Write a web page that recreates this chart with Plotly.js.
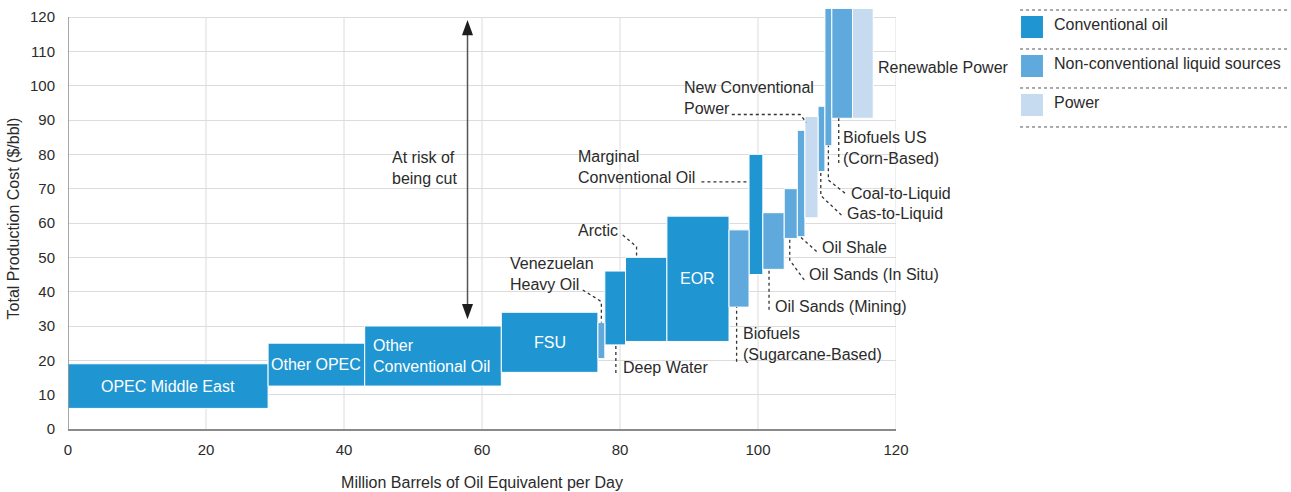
<!DOCTYPE html>
<html>
<head>
<meta charset="utf-8">
<script src="https://cdn.plot.ly/plotly-3.0.1.min.js"></script>
<style>
  html, body { margin: 0; padding: 0; background: #fff; }
  #chart { width: 1291px; height: 492px; }
</style>
</head>
<body>
<div id="chart"></div>
<script>
// Supply cost curve: each block is a source, its width the volume it supplies
// (million barrels of oil equivalent per day), its height the production cost range ($/bbl).
const sources = [
  'OPEC Middle East', 'Other OPEC', 'Other Conventional Oil', 'FSU',
  'Venezuelan Heavy Oil', 'Deep Water', 'Arctic', 'EOR',
  'Biofuels (Sugarcane-Based)', 'Marginal Conventional Oil', 'Oil Sands (Mining)',
  'Oil Sands (In Situ)', 'Oil Shale', 'New Conventional Power', 'Gas-to-Liquid',
  'Coal-to-Liquid', 'Biofuels US (Corn-Based)', 'Renewable Power'
];
const volumes  = [29, 14, 19.8, 14, 1, 3, 6, 9, 2.9, 2, 3.1, 1.9, 1.1, 1.9, 1, 1, 3, 3];
const costLow  = [6, 12.5, 12.5, 16.5, 20.5, 24.5, 25.5, 25.5, 35.5, 45, 46.5, 55.5, 56, 61.5, 75, 82.5, 90.5, 90.5];
const costHigh = [19, 25, 30, 34, 31, 46, 50, 62, 58, 80, 63, 70, 87, 91, 94, 122.5, 122.5, 122.5];
const sourceType = [0, 0, 0, 0, 1, 0, 0, 0, 1, 0, 1, 1, 1, 2, 1, 1, 1, 2];
const typeNames = ['Conventional oil', 'Non-conventional liquid sources', 'Power'];

const xTicks = [0, 20, 40, 60, 80, 100, 120];
const yTicks = [0, 10, 20, 30, 40, 50, 60, 70, 80, 90, 100, 110, 120];

// ---- styling ----
const typeColors = ['#1f95d2', '#60a9dc', '#c6dbf0'];
const FONT = 'Liberation Sans, Arial, Helvetica, sans-serif';
const TEXT = '#2b2b2b';
const GRID = '#dcdcdc';
const AXIS = '#8a8a8a';
const LINE_GAP = 21;      // px between lines of a multi-line label
const Y_VIEW_MAX = 122.62; // a little headroom so the tallest blocks rise past the 120 rule
const X_MAX = 120, Y_MAX = 120;

// cumulative left edge of each block
const starts = [];
volumes.reduce((acc, v, i) => { starts[i] = acc; return acc + v; }, 0);
const idx = name => sources.indexOf(name);

// one bar trace per source type
const traces = typeNames.map((tn, t) => {
  const ids = sources.map((s, i) => i).filter(i => sourceType[i] === t);
  return {
    type: 'bar',
    name: tn,
    x: ids.map(i => starts[i] + volumes[i] / 2),
    width: ids.map(i => volumes[i]),
    base: ids.map(i => costLow[i]),
    y: ids.map(i => costHigh[i] - costLow[i]),
    text: ids.map(i => sources[i]),
    textposition: 'none',
    hoverinfo: 'text',
    marker: { color: typeColors[t], line: { color: '#ffffff', width: 1 } },
    showlegend: false
  };
});

const annotations = [];
const shapes = [];

// vertical grid rules and the value axis line stop at the 120 rule
xTicks.slice(1).forEach(v => {
  shapes.push({ type: 'line', xref: 'x', yref: 'y', x0: v, x1: v, y0: 0, y1: Y_MAX,
                layer: 'below', line: { color: GRID, width: 1 } });
});
shapes.push({ type: 'line', xref: 'x', yref: 'y', x0: 0, x1: 0, y0: 0, y1: Y_MAX,
              layer: 'above', line: { color: AXIS, width: 1.5 } });

// white labels inside the large blocks
const insideLabels = [
  { name: 'OPEC Middle East', lines: ['OPEC Middle East'] },
  { name: 'Other OPEC', lines: ['Other OPEC'] },
  { name: 'Other Conventional Oil', lines: ['Other', 'Conventional Oil'], align: 'left', pad: 0.9 },
  { name: 'FSU', lines: ['FSU'] },
  { name: 'EOR', lines: ['EOR'] }
];
insideLabels.forEach(l => {
  const i = idx(l.name);
  const cy = (costLow[i] + costHigh[i]) / 2;
  const n = l.lines.length;
  l.lines.forEach((line, k) => {
    annotations.push({
      xref: 'x', yref: 'y',
      x: l.align === 'left' ? starts[i] + l.pad : starts[i] + volumes[i] / 2,
      xanchor: l.align === 'left' ? 'left' : 'center',
      y: cy, yanchor: 'middle',
      yshift: ((n - 1) / 2 - k) * LINE_GAP,
      text: line, showarrow: false,
      font: { family: FONT, size: 16, color: '#ffffff' }
    });
  });
});

// callout labels with dotted leaders running to their block
const callouts = [
  { name: 'Venezuelan Heavy Oil', lines: ['Venezuelan', 'Heavy Oil'], x: 63.8, y: 48.1,
    pts: [[74.6, 40.5], [77.3, 37.1]], end: 'top', ex: 77.3 },
  { name: 'Deep Water', lines: ['Deep Water'], x: 80.1, y: 17.8,
    pts: [[79.4, 16.3]], end: 'bottom', ex: 79.4 },
  { name: 'Arctic', lines: ['Arctic'], x: 73.6, y: 57.7,
    pts: [[80.4, 56.5], [82.4, 53.1]], end: 'top', ex: 82.4 },
  { name: 'Marginal Conventional Oil', lines: ['Marginal', 'Conventional Oil'], x: 73.6, y: 79.5,
    pts: [[91.8, 72.0]], end: 'left', ey: 72.0 },
  { name: 'New Conventional Power', lines: ['New Conventional', 'Power'], x: 89.0, y: 99.6,
    pts: [[96.2, 91.6], [106.1, 91.6], [107.0, 89.3]], end: null },
  { name: 'Biofuels US (Corn-Based)', lines: ['Biofuels US', '(Corn-Based)'], x: 112.1, y: 85.0,
    pts: [[111.7, 77.5]], end: 'bottom', ex: 111.7 },
  { name: 'Coal-to-Liquid', lines: ['Coal-to-Liquid'], x: 113.2, y: 68.7,
    pts: [[112.6, 68.7], [110.2, 72.5]], end: 'bottom', ex: 110.2 },
  { name: 'Gas-to-Liquid', lines: ['Gas-to-Liquid'], x: 112.6, y: 62.9,
    pts: [[112.1, 62.3], [109.1, 68.0]], end: 'bottom', ex: 109.1 },
  { name: 'Oil Shale', lines: ['Oil Shale'], x: 109.0, y: 53.0,
    pts: [[108.5, 51.7]], end: 'bottom', ex: 106.1 },
  { name: 'Oil Sands (In Situ)', lines: ['Oil Sands (In Situ)'], x: 107.1, y: 44.9,
    pts: [[106.7, 43.4], [104.6, 49.2]], end: 'bottom', ex: 104.6 },
  { name: 'Oil Sands (Mining)', lines: ['Oil Sands (Mining)'], x: 102.2, y: 35.8,
    pts: [[101.6, 34.7]], end: 'bottom', ex: 101.6 },
  { name: 'Biofuels (Sugarcane-Based)', lines: ['Biofuels', '(Sugarcane-Based)'], x: 97.6, y: 27.7,
    pts: [[96.9, 19.6]], end: 'bottom', ex: 96.9 },
  { name: 'Renewable Power', lines: ['Renewable Power'], x: 117.1, y: 105.4, pts: [], end: null }
];
callouts.forEach(c => {
  const i = idx(c.name);
  c.lines.forEach((line, k) => {
    annotations.push({
      xref: 'x', yref: 'y', x: c.x, y: c.y, xanchor: 'left', yanchor: 'middle',
      yshift: -k * LINE_GAP, text: line, showarrow: false,
      font: { family: FONT, size: 16, color: TEXT }
    });
  });
  const pts = c.pts.slice();
  if (c.end === 'top') pts.push([c.ex, costHigh[i]]);
  if (c.end === 'bottom') pts.push([c.ex, costLow[i]]);
  if (c.end === 'left') pts.push([starts[i], c.ey]);
  if (pts.length > 1) {
    shapes.push({
      type: 'path', xref: 'x', yref: 'y', layer: 'above',
      path: pts.map((p, k) => (k ? 'L' : 'M') + p[0] + ',' + p[1]).join(' '),
      line: { color: '#333333', width: 1.3, dash: 'dot' }
    });
  }
});

// "at risk" double-headed arrow: shaft plus two filled heads
const arrow = { x: 57.9, yTop: 119.1, yBottom: 32.0, halfW: 0.8, headH: 4.4 };
shapes.push({ type: 'line', xref: 'x', yref: 'y', x0: arrow.x, x1: arrow.x,
              y0: arrow.yBottom + arrow.headH - 0.5, y1: arrow.yTop - arrow.headH + 0.5,
              layer: 'above', line: { color: '#555555', width: 1.5 } });
shapes.push({ type: 'path', xref: 'x', yref: 'y', layer: 'above',
              path: `M${arrow.x},${arrow.yTop} L${arrow.x - arrow.halfW},${arrow.yTop - arrow.headH} L${arrow.x + arrow.halfW},${arrow.yTop - arrow.headH} Z`,
              fillcolor: '#1e1e1e', line: { width: 0 } });
shapes.push({ type: 'path', xref: 'x', yref: 'y', layer: 'above',
              path: `M${arrow.x},${arrow.yBottom} L${arrow.x - arrow.halfW},${arrow.yBottom + arrow.headH} L${arrow.x + arrow.halfW},${arrow.yBottom + arrow.headH} Z`,
              fillcolor: '#1e1e1e', line: { width: 0 } });
['At risk of', 'being cut'].forEach((line, k) => {
  annotations.push({
    xref: 'x', yref: 'y', x: 46.6, y: 79.2, xanchor: 'left', yanchor: 'middle',
    yshift: -k * LINE_GAP, text: line, showarrow: false,
    font: { family: FONT, size: 16, color: TEXT }
  });
});

// legend: swatches between dotted rules, right of the plot
const legendBox = { x0: 1.1498, x1: 1.4734, swX0: 1.151, swX1: 1.1775, textX: 1.1884,
                    top: 0.9952, pitch: 0.0926, swPad: 0.0142, swH: 0.0523 };
for (let r = 0; r <= typeNames.length; r++) {
  const y = legendBox.top - r * legendBox.pitch;
  shapes.push({ type: 'line', xref: 'paper', yref: 'paper', x0: legendBox.x0, x1: legendBox.x1,
                y0: y, y1: y, line: { color: '#555555', width: 1, dash: 'dot' } });
}
typeNames.forEach((tn, t) => {
  const yTop = legendBox.top - t * legendBox.pitch - legendBox.swPad;
  shapes.push({ type: 'rect', xref: 'paper', yref: 'paper', x0: legendBox.swX0, x1: legendBox.swX1,
                y0: yTop - legendBox.swH, y1: yTop, fillcolor: typeColors[t], line: { width: 0 } });
  annotations.push({ xref: 'paper', yref: 'paper', x: legendBox.textX, y: yTop - legendBox.swH / 2 + 0.007,
                     xanchor: 'left', yanchor: 'middle', text: tn, showarrow: false,
                     font: { family: FONT, size: 16, color: TEXT } });
});

const layout = {
  width: 1291, height: 492,
  margin: { l: 68, r: 395, t: 8, b: 63 },
  paper_bgcolor: '#ffffff', plot_bgcolor: '#ffffff',
  barmode: 'overlay',
  bargap: 0,
  showlegend: false,
  font: { family: FONT, size: 15, color: TEXT },
  xaxis: {
    range: [0, X_MAX], tickvals: xTicks, ticktext: xTicks.map(String),
    showgrid: false,
    zeroline: false, showline: true, linecolor: AXIS, linewidth: 1.5,
    ticks: '', ticklabelstandoff: 6,
    tickfont: { family: FONT, size: 15, color: TEXT },
    title: { text: 'Million Barrels of Oil Equivalent per Day', standoff: 20,
             font: { family: FONT, size: 16, color: TEXT } },
    fixedrange: true
  },
  yaxis: {
    range: [0, Y_VIEW_MAX], tickvals: yTicks, ticktext: yTicks.map(String),
    showgrid: true, gridcolor: GRID, gridwidth: 1,
    zeroline: false, showline: false,
    ticks: '', ticklabelstandoff: 12,
    tickfont: { family: FONT, size: 15, color: TEXT },
    title: { text: 'Total Production Cost ($/bbl)', standoff: 6,
             font: { family: FONT, size: 16, color: TEXT } },
    fixedrange: true
  },
  annotations: annotations,
  shapes: shapes
};

Plotly.newPlot('chart', traces, layout, { displayModeBar: false, staticPlot: true });
</script>
</body>
</html>
